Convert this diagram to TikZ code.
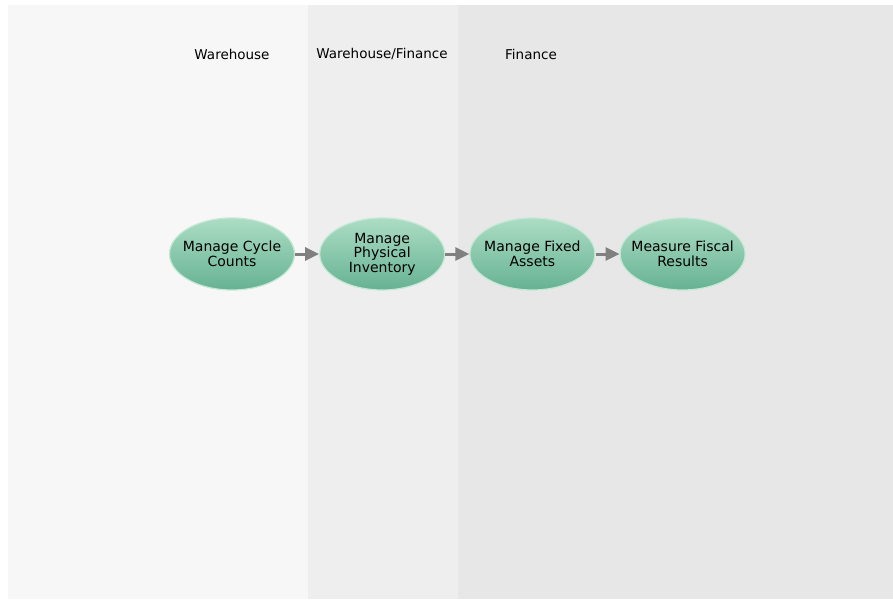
\documentclass[tikz,border=0pt]{standalone}
\usepackage{fontspec}
\setmainfont{DejaVu Sans}
\usetikzlibrary{arrows.meta,positioning,shapes.geometric}
\definecolor{laneWh}{HTML}{F7F7F7}
\definecolor{laneMix}{HTML}{EEEEEE}
\definecolor{laneFin}{HTML}{E7E7E7}
\definecolor{procTop}{HTML}{ACDDC5}
\definecolor{procBot}{HTML}{66B292}
\definecolor{procRim}{HTML}{C3E8D6}
\definecolor{flowGray}{HTML}{808080}
\tikzset{
  procnode/.style={ellipse,top color=procTop,bottom color=procBot,draw=procRim,line width=1.2pt,
    minimum width=125pt,minimum height=72pt,inner xsep=-10pt,inner ysep=-4pt,align=center,
    font=\fontsize{14}{14.5}\selectfont,text=black},
  flow/.style={draw=flowGray,line width=3pt,-{Triangle[length=14pt,width=13pt]}},
  lanehead/.style={font=\fontsize{13.5}{15}\selectfont,text=black}
}

\begin{document}
\begin{tikzpicture}[x=1pt,y=-1pt]
  \useasboundingbox (0,0) rectangle (893,599);
  % lanes
  \fill[white] (0,0) rectangle (893,599);
  \fill[laneWh] (8,5) rectangle (308,599);
  \fill[laneMix] (308,5) rectangle (458,599);
  \fill[laneFin] (458,5) rectangle (893,599);
  \node[lanehead] (whHead) at (232,54) {Warehouse};
  \node[lanehead] (mixHead) at (382,54) {Warehouse/Finance};
  \node[lanehead] (finHead) at (531,54) {Finance};
  % process steps
  \node[procnode] (cycle) at (232,254) {Manage Cycle\\Counts};
  \node[procnode,right=24pt of cycle] (physical) {Manage\\Physical\\Inventory};
  \node[procnode,right=24pt of physical] (assets) {Manage Fixed\\Assets};
  \node[procnode,right=24pt of assets] (fiscal) {Measure Fiscal\\Results};
  \draw[flow] (cycle) -- (physical);
  \draw[flow] (physical) -- (assets);
  \draw[flow] (assets) -- (fiscal);
\end{tikzpicture}
\end{document}
